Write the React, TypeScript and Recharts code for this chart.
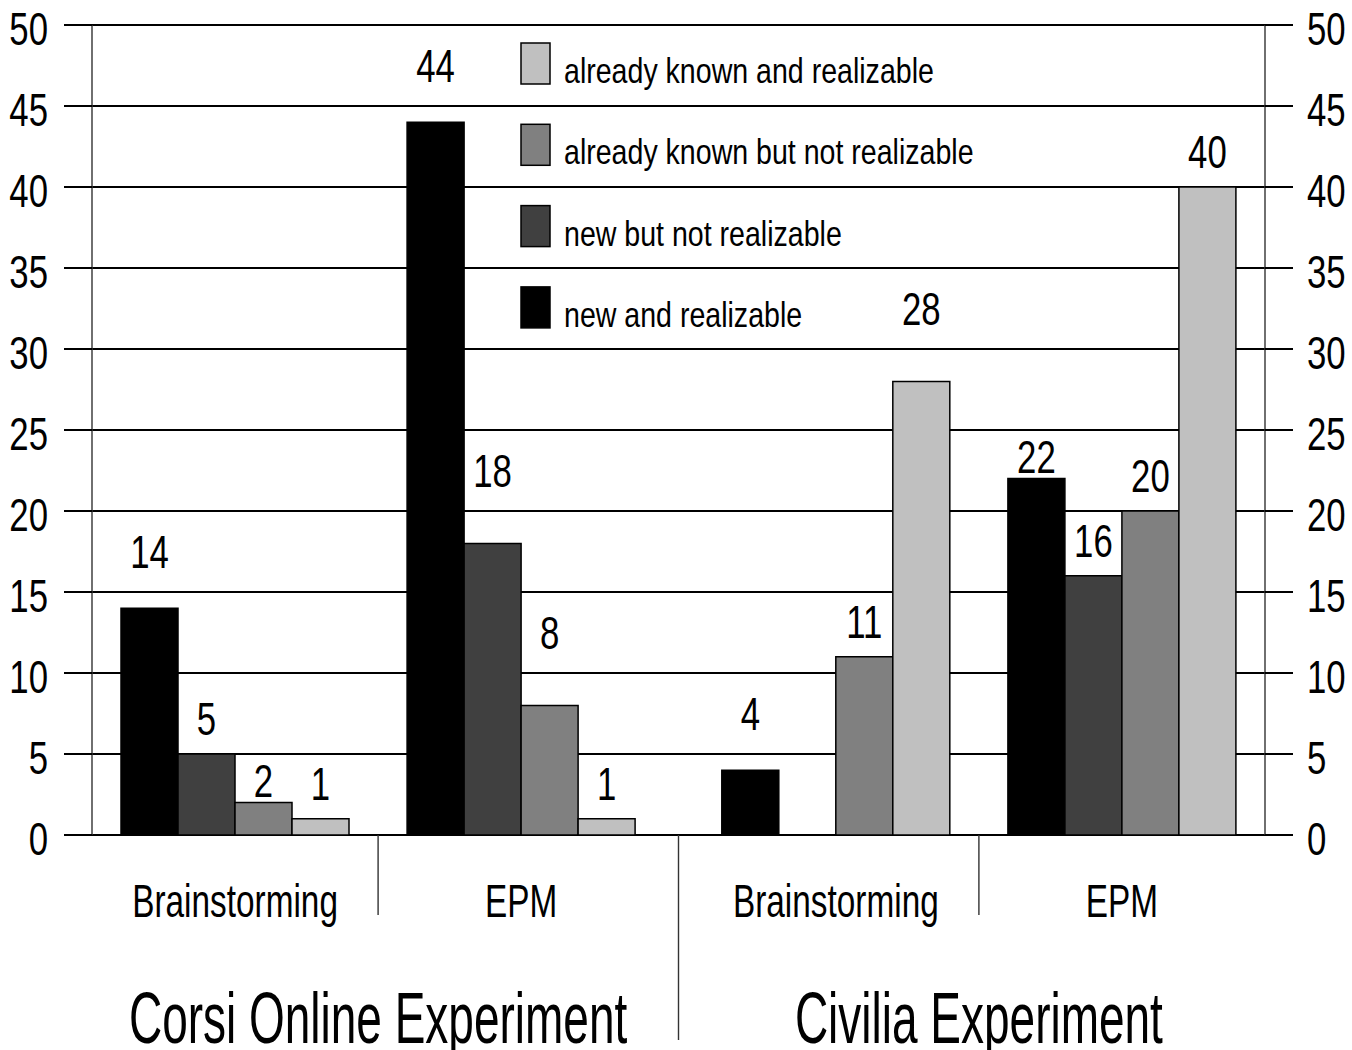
import React from "react";
import { Bar, BarChart, CartesianGrid, LabelList, XAxis, YAxis } from "recharts";

const FONT = '"Liberation Sans Narrow", "Liberation Sans", Arial, sans-serif';

const experiments = ["Corsi Online Experiment", "Civilia Experiment"];
const methods = ["Brainstorming", "EPM", "Brainstorming", "EPM"];
const methodExperiment = [0, 0, 1, 1];

const newRealizable = [14, 44, 4, 22];
const newNotRealizable = [5, 18, 0, 16];
const knownNotRealizable = [2, 8, 11, 20];
const knownRealizable = [1, 1, 28, 40];

const yTicks = [0, 5, 10, 15, 20, 25, 30, 35, 40, 45, 50];

const series = [
  { key: "newReal", name: "new and realizable", values: newRealizable, fill: "#000000" },
  { key: "newNot", name: "new but not realizable", values: newNotRealizable, fill: "#404040" },
  { key: "knownNot", name: "already known but not realizable", values: knownNotRealizable, fill: "#808080" },
  { key: "knownReal", name: "already known and realizable", values: knownRealizable, fill: "#c0c0c0" },
];

// layout
const W = 1352;
const H = 1050;
const PLOT_TOP = 25;
const PLOT_BOTTOM = 835;
const Y_MAX = 50;
const EXP_GAP = 0.1; // extra space between the two experiments, in group widths
const CAT_AXIS_H = 80;
const EXP_AXIS_H = 135;
const NUM_SX = 0.74; // text is drawn condensed

const rows = methods.map((m, i) => {
  const row: Record<string, any> = { method: m, slot: i + 0.5 + methodExperiment[i] * EXP_GAP };
  series.forEach((s) => (row[s.key] = s.values[i]));
  return row;
});
const slots = rows.map((r) => r.slot);
const xMax = methods.length + (experiments.length - 1) * EXP_GAP;

const dividers: { pos: number; long: boolean }[] = [];
for (let i = 1; i < rows.length; i++) {
  dividers.push({
    pos: (slots[i - 1] + slots[i]) / 2,
    long: methodExperiment[i] !== methodExperiment[i - 1],
  });
}
const expCenters = experiments.map((_, k) => {
  const s = slots.filter((_, i) => methodExperiment[i] === k);
  return (s[0] + s[s.length - 1]) / 2;
});
const expTicks = Array.from(new Set([...dividers.map((d) => d.pos), ...expCenters])).sort((a, b) => a - b);
const near = (a: number, b: number) => Math.abs(a - b) < 1e-6;

const gridYs = yTicks.map((v) => PLOT_TOP + (PLOT_BOTTOM - PLOT_TOP) * (1 - v / Y_MAX));
const gridStep = (PLOT_BOTTOM - PLOT_TOP) / (yTicks.length - 1);

function SText({ x, y, size, sx, anchor = "middle", children }: any) {
  return (
    <text
      transform={`translate(${x} ${y}) scale(${sx} 1)`}
      x={0}
      y={0}
      fontSize={size}
      fontFamily={FONT}
      textAnchor={anchor}
      fill="#000"
    >
      {children}
    </text>
  );
}

const YTick = (props: any) => (
  <SText x={props.x} y={props.y + 19.5} size={47} sx={NUM_SX} anchor={props.textAnchor}>
    {props.payload.value}
  </SText>
);

const MethodTick = (props: any) => {
  const row = rows.find((r) => near(r.slot, props.payload.value));
  return (
    <SText x={props.x} y={props.y + 82} size={47} sx={0.71}>
      {row ? row.method : ""}
    </SText>
  );
};

const ExperimentTick = (props: any) => {
  const v = props.payload.value;
  const d = dividers.find((dv) => near(dv.pos, v));
  const k = expCenters.findIndex((c) => near(c, v));
  return (
    <g>
      {d && (
        <line
          x1={props.x}
          x2={props.x}
          y1={props.y - CAT_AXIS_H}
          y2={props.y + (d.long ? 125 : 0)}
          stroke="#333"
          strokeWidth={1.4}
        />
      )}
      {k >= 0 && (
        <SText x={props.x} y={props.y + 128} size={73} sx={0.63}>
          {experiments[k]}
        </SText>
      )}
    </g>
  );
};

// value labels sit above the bar, nudged off the grid lines
function labelCenter(top: number) {
  let c = top - 36;
  let g = gridYs[0];
  gridYs.forEach((gy) => {
    if (Math.abs(gy - c) < Math.abs(g - c)) g = gy;
  });
  if (Math.abs(c - g) < 24) c = c < g ? g - gridStep / 2 : Math.min(g + 26, top - 20);
  return c;
}

const ValueLabel = (props: any) => {
  const { x, y, width, height, value } = props;
  const top = height < 0 ? y + height : y;
  const c = labelCenter(top);
  return (
    <SText x={x + width / 2} y={c + 16.8} size={47} sx={NUM_SX}>
      {value}
    </SText>
  );
};

function LegendOverlay() {
  const items = [...series].reverse();
  return (
    <svg width={W} height={H} style={{ position: "absolute", left: 0, top: 0, pointerEvents: "none" }}>
      {items.map((s, i) => {
        const top = 43 + i * 81.3;
        return (
          <g key={s.key}>
            <rect x={521} y={top} width={29} height={41} fill={s.fill} stroke="#000" strokeWidth={1.5} />
            <SText x={564} y={top + 40} size={35} sx={0.816} anchor="start">
              {s.name}
            </SText>
          </g>
        );
      })}
    </svg>
  );
}

export default function App() {
  return (
    <div style={{ position: "relative", width: W, height: H, background: "#fff" }}>
      <style>{"body{margin:0}"}</style>
      <BarChart
        width={W}
        height={H}
        data={rows}
        margin={{ top: PLOT_TOP, right: 0, bottom: 0, left: 0 }}
        barGap={0}
      >
        <CartesianGrid vertical={false} stroke="#000" strokeWidth={2} yAxisId="l" />
        <XAxis
          dataKey="slot"
          type="number"
          domain={[0, xMax]}
          allowDataOverflow
          ticks={slots}
          interval={0}
          height={CAT_AXIS_H}
          axisLine={false}
          tickLine={false}
          tickSize={0}
          tickMargin={0}
          tick={<MethodTick />}
        />
        <XAxis
          xAxisId="exp"
          dataKey="slot"
          type="number"
          domain={[0, xMax]}
          allowDataOverflow
          ticks={expTicks}
          interval={0}
          height={EXP_AXIS_H}
          axisLine={false}
          tickLine={false}
          tickSize={0}
          tickMargin={0}
          tick={<ExperimentTick />}
        />
        <YAxis
          yAxisId="l"
          orientation="left"
          width={92}
          domain={[0, Y_MAX]}
          allowDataOverflow
          ticks={yTicks}
          interval={0}
          tickSize={28}
          tickMargin={16}
          tickLine={{ stroke: "#000", strokeWidth: 2 }}
          axisLine={{ stroke: "#333", strokeWidth: 1.4 }}
          tick={<YTick />}
        />
        <YAxis
          yAxisId="r"
          orientation="right"
          width={87}
          domain={[0, Y_MAX]}
          allowDataOverflow
          ticks={yTicks}
          interval={0}
          tickSize={28}
          tickMargin={14}
          tickLine={{ stroke: "#000", strokeWidth: 2 }}
          axisLine={{ stroke: "#333", strokeWidth: 1.4 }}
          tick={<YTick />}
        />
        {series.map((s) => (
          <Bar
            key={s.key}
            dataKey={s.key}
            name={s.name}
            yAxisId="l"
            fill={s.fill}
            stroke="#000"
            strokeWidth={1.5}
            barSize={57}
            isAnimationActive={false}
          >
            <LabelList dataKey={s.key} content={<ValueLabel />} />
          </Bar>
        ))}
      </BarChart>
      <LegendOverlay />
    </div>
  );
}
